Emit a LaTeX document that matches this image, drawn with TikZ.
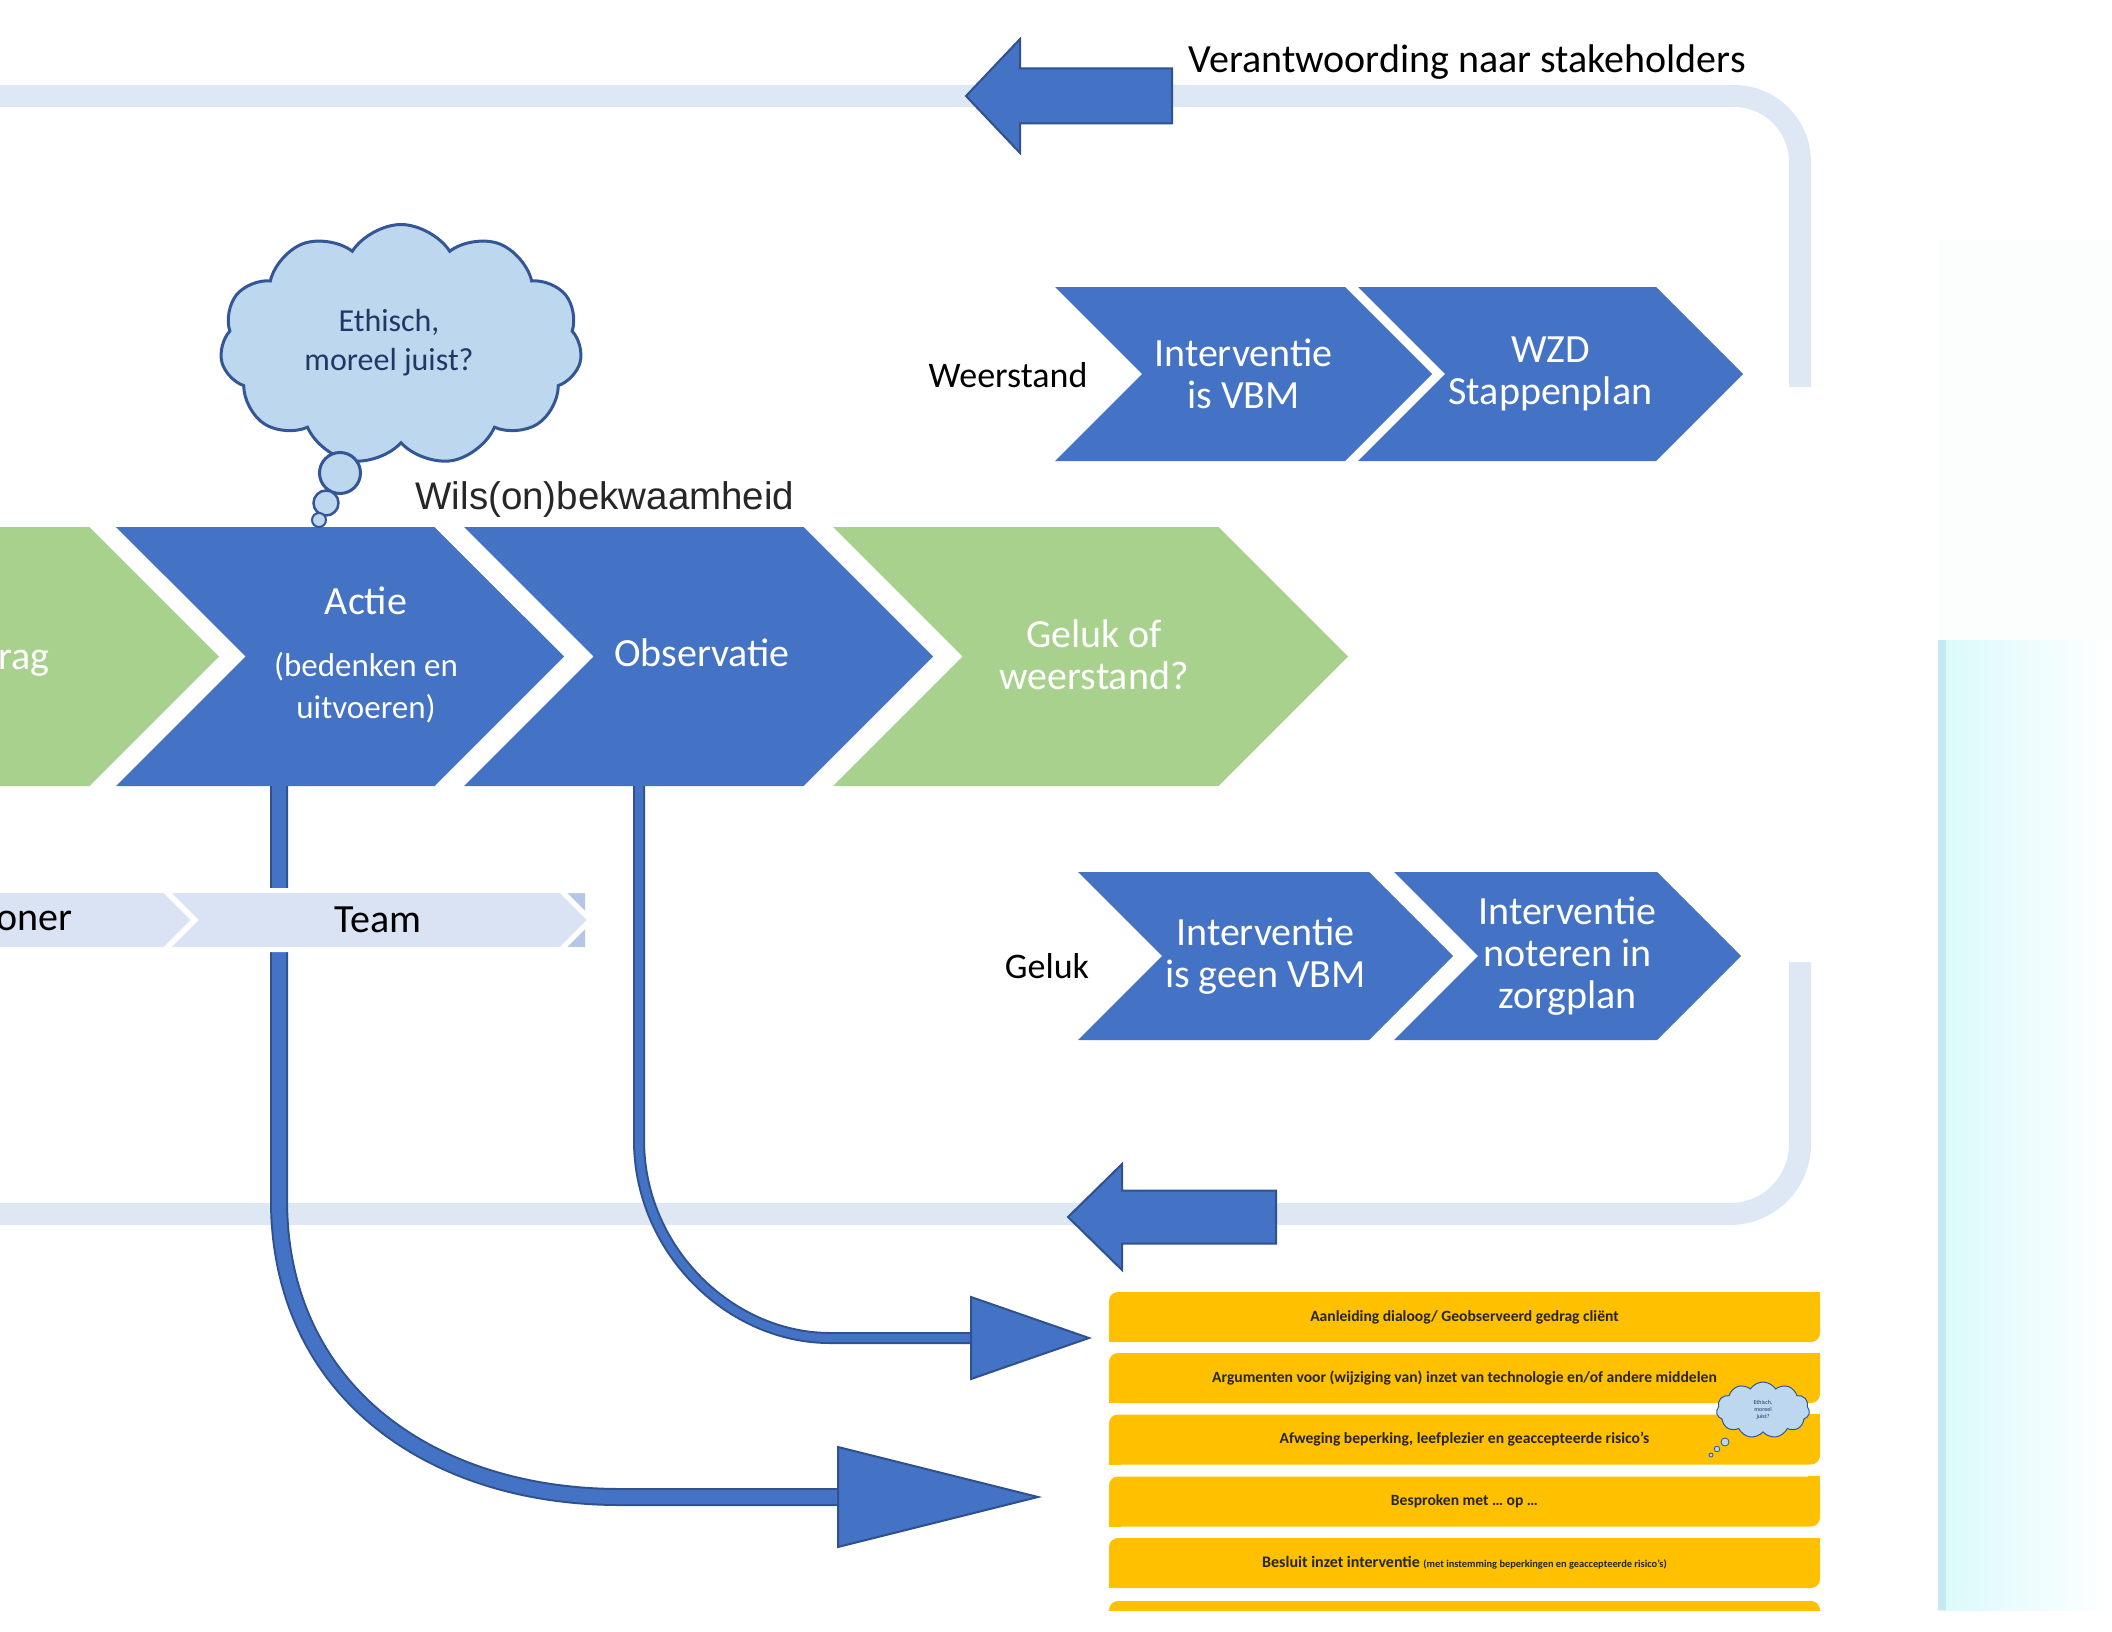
\documentclass[tikz,border=0pt]{standalone}
\usepackage{fontspec}
\setmainfont{Carlito}
\newfontfamily\arialfont{Liberation Sans}
\usetikzlibrary{shapes.symbols,calc}

\begin{document}
\begin{tikzpicture}[x=1pt,y=-1pt,
  chevron/.style={signal, signal to=east, signal from=west, signal pointer angle=90,
    inner sep=0pt, align=center, text=white, font=\fontsize{40}{42}\selectfont},
  bluechev/.style={chevron, fill=chevblue},
  greenchev/.style={chevron, fill=chevgreen},
  teamchev/.style={chevron, fill=teambg, draw=white, line width=5pt, text=black},
  band/.style={draw=bandblue, line width=22pt},
  blockarrow/.style={fill=chevblue, draw=arrowline, line width=2pt},
  pijldik/.style={draw=arrowline, line width=2pt, double=chevblue, double distance=14pt},
  pijldun/.style={draw=arrowline, line width=2pt, double=chevblue, double distance=8pt},
  pijlkop/.style={fill=chevblue, draw=arrowline, line width=2pt, line join=miter},
  tekst/.style={text=black, font=\fontsize{36}{40}\selectfont},
  wolk/.style={cloud, cloud puffs=11, cloud puff arc=115, aspect=1.5, inner sep=0pt,
    fill=cloudfill, draw=cloudline, align=center, text=cloudtext},
  bar/.style={fill=baryellow, rounded corners=9pt, minimum width=711pt, minimum height=50pt,
    inner sep=0pt, text=black!85, font=\bfseries\fontsize{15.6}{17}\selectfont}]
% Define colors
\definecolor{chevblue}{RGB}{68,114,196}
\definecolor{chevgreen}{RGB}{169,209,142}
\definecolor{arrowline}{RGB}{47,82,143}
\definecolor{bandblue}{RGB}{221,232,244}
\definecolor{teambg}{RGB}{218,227,243}
\definecolor{teamdark}{RGB}{180,199,231}
\definecolor{cloudfill}{RGB}{189,215,238}
\definecolor{cloudline}{RGB}{52,86,150}
\definecolor{cloudtext}{RGB}{32,56,100}
\definecolor{baryellow}{RGB}{255,192,0}
\definecolor{gradcyan}{RGB}{218,249,251}
\definecolor{gradedge}{RGB}{196,234,240}
\definecolor{gradtop}{RGB}{252,254,254}

\useasboundingbox (0,0) rectangle (2112,1632);
\clip (0,0) rectangle (2112,1632);

% Background on the right
\fill[gradtop] (1938,240) rectangle (2112,640);
\shade[left color=gradcyan, right color=white] (1938,640) rectangle (2112,1610);
\fill[gradedge] (1938,640) rectangle (1946,1610);

% Feedback bands
\coordinate (topend) at (1800,387);
\coordinate (topfree) at (0,96);
\coordinate (botstart) at (1800,962);
\coordinate (botfree) at (0,1214);
\draw[band, rounded corners=66pt] (topend) -- (1800,96) -- (topfree);
\draw[band, rounded corners=70pt] (botstart) -- (1800,1214) -- (botfree);

% Block arrows on the bands
\coordinate (toptip) at (966,96);
\filldraw[blockarrow] (toptip) -- ++(54,-57) -- ++(0,29.5) -- ++(152,0) -- ++(0,55) -- ++(-152,0) -- ++(0,29.5) -- cycle;
\coordinate (bottip) at (1068,1217);
\filldraw[blockarrow] (bottip) -- ++(54,-53) -- ++(0,26.5) -- ++(154,0) -- ++(0,53) -- ++(-154,0) -- ++(0,26.5) -- cycle;
\node[anchor=west, text=black, font=\fontsize{40}{44}\selectfont] (verantw) at (1185,62) {Verantwoording naar stakeholders};

% Main row
\node[greenchev, minimum width=448pt, minimum height=259pt] (gedrag) at (-5,656.5) {};
\node[anchor=base east, text=white, font=\fontsize{40}{42}\selectfont] (gedragtxt) at (53,669) {rag};
\node[bluechev, minimum width=448pt, minimum height=259pt] (actie) at (340,656.5) {};
\node[align=center, text=white, font=\fontsize{40}{42}\selectfont] (actietxt) at (366,655)
  {Actie\\[20pt]{\fontsize{33}{40}\selectfont(bedenken en}\\{\fontsize{33}{40}\selectfont uitvoeren)}};
\node[bluechev, minimum width=469pt, minimum height=259pt] (observatie) at (698.5,656.5) {};
\node[text=white, font=\fontsize{40}{42}\selectfont] (obstxt) at (702,653) {Observatie};
\node[greenchev, minimum width=515pt, minimum height=259pt] (gelukof) at (1090.5,656.5) {};
\node[align=center, text=white, font=\fontsize{40}{42}\selectfont] (gelukoftxt) at (1094,655) {Geluk of\\weerstand?};

% Weerstand row
\node[tekst] (weerstand) at (1008,375) {Weerstand};
\node[bluechev, minimum width=377pt, minimum height=174pt] (vbm) at (1243.5,374) {Interventie\\is VBM};
\node[bluechev, minimum width=385pt, minimum height=174pt] (wzd) at (1550.5,374) {WZD\\Stappenplan};

% Geluk row
\node[tekst] (geluk) at (1047,966) {Geluk};
\node[bluechev, minimum width=375pt, minimum height=168pt] (geenvbm) at (1265.5,956) {Interventie\\is geen VBM};
\node[bluechev, minimum width=347pt, minimum height=168pt] (zorgplan) at (1567.5,956) {Interventie\\noteren in\\zorgplan};

% Thought cloud
\node[wolk, line width=3pt, minimum width=362pt, minimum height=241pt] (wolkgroot) at (401,345) {};
\node[align=center, text=cloudtext, font=\fontsize{32}{39}\selectfont] (wolktxt) at (389,343) {Ethisch,\\moreel juist?};
\filldraw[fill=cloudfill, draw=cloudline, line width=3pt] (340,473) circle (20.5pt);
\filldraw[fill=cloudfill, draw=cloudline, line width=2.5pt] (326,503) circle (12.5pt);
\filldraw[fill=cloudfill, draw=cloudline, line width=2pt] (319,520) circle (7pt);
\node[text=black!85, font=\arialfont\fontsize{38.5}{44}\selectfont] (wils) at (605,500) {Wils(on)bekwaamheid};

% Arrows to the list
\coordinate (actiepijl) at (1038,1497);
\coordinate (obspijl) at (1089,1338);
\draw[pijldik] ([xshift=-61pt]actie.south) -- (279,1200) .. controls (279,1390) and (430,1497) .. (620,1497) -- ($(actiepijl)+(-200,0)$);
\filldraw[pijlkop] (actiepijl) -- ++(-200,-50) -- ++(0,100) -- cycle;
\draw[pijldun] ([xshift=-59.5pt]observatie.south) -- (639,1140) .. controls (639,1250) and (730,1338) .. (830,1338) -- ($(obspijl)+(-118,0)$);
\filldraw[pijlkop] (obspijl) -- ++(-118,-41) -- ++(0,82) -- cycle;

% Team row
\begin{scope}
\clip (0,880) rectangle (585,960);
\node[teamchev, fill=teamdark, minimum width=425pt, minimum height=59pt] (teamnext) at (771,920) {};
\end{scope}
\node[teamchev, minimum width=405pt, minimum height=59pt] (oner) at (-8,920) {};
\node[teamchev, minimum width=425pt, minimum height=59pt] (team) at (378,920) {Team};
\node[anchor=base east, text=black, font=\fontsize{40}{42}\selectfont] (onertxt) at (76,930) {oner};

% Yellow list
\node[bar] (bar1) at (1464.5,1317) {Aanleiding dialoog/ Geobserveerd gedrag cliënt};
\node[bar] (bar2) at (1464.5,1378) {Argumenten voor (wijziging van) inzet van technologie en/of andere middelen};
\node[bar] (bar3) at (1464.5,1439.5) {Afweging beperking, leefplezier en geaccepteerde risico's};
\node[bar] (bar4) at (1464.5,1501.5) {Besproken met … op …};
\node[bar] (bar5) at (1464.5,1563) {\fontsize{16}{17}\selectfont Besluit inzet interventie {\fontsize{10.4}{11}\selectfont(met instemming beperkingen en geaccepteerde risico's)}};
\foreach \b in {bar1,bar2,bar3,bar4,bar5} {
  \fill[baryellow] (\b.south west) rectangle ++(12,-12);
  \fill[baryellow] (\b.north east) rectangle ++(-12,12);
}
\begin{scope}
\clip (1100,1590) rectangle (1830,1610);
\node[bar] (bar6) at (1464.5,1626) {};
\end{scope}

% Small cloud on the list
\node[wolk, line width=1pt, minimum width=93pt, minimum height=56pt,
  font=\fontsize{6}{7}\selectfont] (wolkklein) at (1763,1410) {Ethisch,\\moreel\\juist?};
\filldraw[fill=cloudfill, draw=cloudline, line width=0.8pt] (1725,1442) circle (4pt);
\filldraw[fill=cloudfill, draw=cloudline, line width=0.8pt] (1717,1449) circle (2.8pt);
\filldraw[fill=cloudfill, draw=cloudline, line width=0.8pt] (1711,1455) circle (2pt);

\end{tikzpicture}
\end{document}
